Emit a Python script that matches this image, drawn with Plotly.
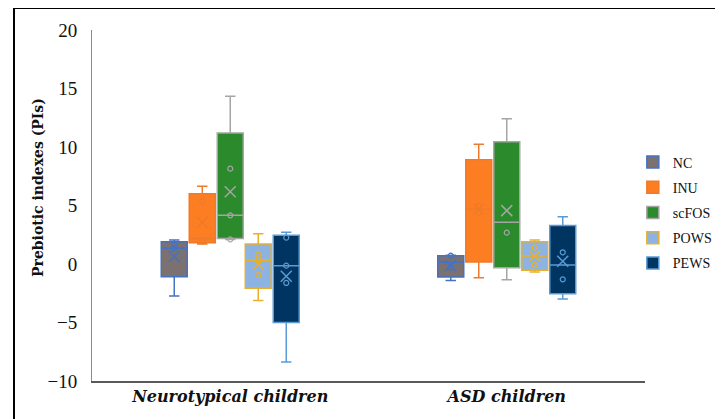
import plotly.graph_objects as go

groups = ["Neurotypical children", "ASD children"]
series = ["NC", "INU", "scFOS", "POWS", "PEWS"]

# per series: values for [Neurotypical, ASD]
q1 = {"NC": [-1.08, -1.11], "INU": [1.82, 0.17], "scFOS": [2.19, -0.31], "POWS": [-2.08, -0.54], "PEWS": [-5.01, -2.54]}
median = {"NC": [1.34, 0.14], "INU": [2.19, 4.67], "scFOS": [4.16, 3.56], "POWS": [0.31, 0.68], "PEWS": [-0.14, -0.09]}
q3 = {"NC": [1.90, 0.71], "INU": [6.00, 8.92], "scFOS": [11.20, 10.45], "POWS": [1.71, 1.91], "PEWS": [2.45, 3.30]}
lower = {"NC": [-2.74, -1.40], "INU": [1.71, -1.17], "scFOS": [2.10, -1.34], "POWS": [-3.13, -0.68], "PEWS": [-8.38, -2.99]}
upper = {"NC": [2.05, 0.75], "INU": [6.64, 10.23], "scFOS": [14.33, 12.42], "POWS": [2.59, 2.05], "PEWS": [2.71, 4.04]}
mean = {"NC": [0.63, -0.14], "INU": [3.56, 4.70], "scFOS": [6.18, 4.56], "POWS": [-0.03, 0.68], "PEWS": [-1.05, 0.23]}
inner_points = {
    "NC": [[1.68, 1.34], [0.71, -0.31]],
    "INU": [[5.36, 1.94], [4.96, 4.36]],
    "scFOS": [[8.15, 4.16, 2.10], [2.68]],
    "POWS": [[0.80, 0.34, -0.94], [1.40, -0.09]],
    "PEWS": [[2.25, -0.14, -1.62], [1.00, -1.31]],
}

fills = {"NC": "#7A7170", "INU": "#FD7E22", "scFOS": "#2B8A2B", "POWS": "#8DB3E2", "PEWS": "#003562"}
lines = {"NC": "#4472C4", "INU": "#F07A2A", "scFOS": "#A5A5A5", "POWS": "#E9B02C", "PEWS": "#5B9BD5"}

slot = 28 / 276.5
bw = 26 / 276.5

fig = go.Figure()
for si, s in enumerate(series):
    xs = [gi + (si - 2) * slot for gi in range(len(groups))]
    fig.add_trace(go.Box(
        name=s, x=xs, q1=q1[s], median=median[s], q3=q3[s],
        lowerfence=lower[s], upperfence=upper[s],
        width=bw, whiskerwidth=0.4,
        fillcolor=fills[s], line=dict(color=lines[s], width=1.5),
        boxpoints=False, hoverinfo="skip", legendgroup=s,
    ))
    px, py = [], []
    for gi in range(len(groups)):
        for v in inner_points[s][gi]:
            px.append(xs[gi]); py.append(v)
    fig.add_trace(go.Scatter(
        x=px, y=py, mode="markers", showlegend=False, legendgroup=s,
        marker=dict(symbol="circle-open", size=5, color=lines[s], line=dict(width=1.2)),
    ))
    fig.add_trace(go.Scatter(
        x=xs, y=mean[s], mode="markers", showlegend=False, legendgroup=s,
        marker=dict(symbol="x-thin-open", size=11, color=lines[s], line=dict(width=1.5, color=lines[s])),
    ))

font = "Liberation Serif"
lab_font = "DejaVu Serif"
fig.update_layout(
    width=715, height=411,
    margin=dict(l=84, r=78, t=22, b=38, autoexpand=False),
    paper_bgcolor="white", plot_bgcolor="white",
    font=dict(family=font, color="#111111"),
    showlegend=True,
    legend=dict(x=0.978, xanchor="left", y=0.48, yanchor="middle",
                font=dict(family=font, size=14, color="#111111"),
                traceorder="grouped", tracegroupgap=4, itemwidth=30, bgcolor="rgba(0,0,0,0)"),
    xaxis=dict(range=[-0.5, 1.5], tickvals=list(range(len(groups))),
               ticktext=["<b><i>%s</i></b>" % g for g in groups],
               showgrid=False, zeroline=False, showline=True, linecolor="#595959", linewidth=1.5,
               ticks="", tickfont=dict(family=lab_font, size=16, color="#111111")),
    yaxis=dict(range=[-10, 20], tickvals=[-10, -5, 0, 5, 10, 15, 20],
               ticktext=["\u221210", "\u22125", "0", "5", "10", "15", "20"],
               showgrid=False, zeroline=False, showline=True, linecolor="#8C8C8C", linewidth=1,
               ticks="outside", ticklen=10, tickcolor="rgba(0,0,0,0)",
               tickfont=dict(family=font, size=19, color="#111111")),
    annotations=[dict(text="<b>Prebiotic indexes (PIs)</b>", textangle=-90,
                      xref="paper", yref="paper", x=(38 - 92) / 553, y=(381 - 188) / 351,
                      xanchor="center", yanchor="middle", showarrow=False,
                      font=dict(family=lab_font, size=14, color="#111111"))],
    shapes=[dict(type="rect", xref="paper", yref="paper",
                 x0=(14 - 92) / 553, x1=1.3, y0=-0.3, y1=(381 - 8) / 351,
                 line=dict(color="black", width=2), fillcolor="rgba(0,0,0,0)", layer="below")],
)

fig.write_html("out.html")
